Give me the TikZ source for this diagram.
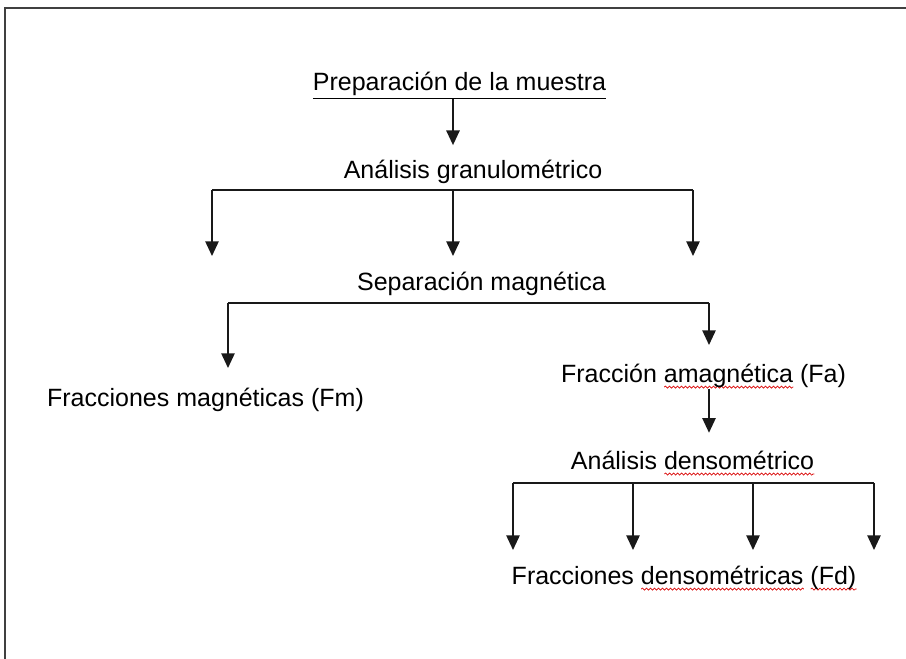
\documentclass[tikz,border=0pt]{standalone}
\usepackage{fontspec}
\setmainfont{Liberation Sans}
\usetikzlibrary{arrows.meta,decorations.pathmorphing}
\newcommand\spellwave[1]{\setbox0\hbox{#1}\rlap{\tikz[baseline=0pt]\draw[red!85!black, line width=0.5pt, decorate, decoration={snake,amplitude=0.8pt,segment length=3pt}] (0pt,-3.8pt) -- (\wd0,-3.8pt);}\box0\relax}
\tikzset{
  txt/.style={anchor=base, inner sep=0pt, font=\fontsize{18.75}{22}\selectfont},
  flow/.style={draw=black!90, line width=1.2pt, -{Triangle[width=10pt,length=11pt]}},
  branch/.style={draw=black!90, line width=1.2pt},
}
\begin{document}
\begin{tikzpicture}[x=0.75pt,y=-0.75pt]
\useasboundingbox (0,0) rectangle (906,659);
% page frame
\draw[line width=1.5pt, black!75] (5,659) -- (5,8) -- (906,8);
% texts
\node[txt] (prep) at (459.5,91) {\underline{Preparación de la muestra}};
\node[txt] (gran) at (473,179) {Análisis granulométrico};
\node[txt] (sep) at (481.5,291) {Separación magnética};
\node[txt] (fm) at (205.5,406) {Fracciones magnéticas (Fm)};
\node[txt] (fa) at (703.5,382) {Fracción \spellwave{amagnética} (Fa)};
\node[txt] (dens) at (692.5,469) {Análisis \spellwave{densométrico}};
\node[txt] (fd) at (684,584) {Fracciones \spellwave{densométricas} \spellwave{(Fd)}};
% granulometric split
\coordinate (g1) at (212,190);
\coordinate (g2) at (453,190);
\coordinate (g3) at (693,190);
\draw[flow] (prep.south -| g2) -- ++(0,46);
\draw[branch] (g1) -- (g3);
\foreach \c in {g1,g2,g3}
  \draw[flow] (\c) -- ++(0,66);
% magnetic split
\coordinate (s1) at (228,303);
\coordinate (s2) at (709,303);
\draw[branch] (s1) -- (s2);
\draw[flow] (s1) -- ++(0,65);
\draw[flow] (s2) -- ++(0,42);
\draw[flow] (fa.south -| s2) -- ++(0,44);
% densometric split
\foreach \x [count=\i] in {513,633,753,874}
  \coordinate (d\i) at (\x,483);
\draw[branch] (d1) -- (d4);
\foreach \i in {1,...,4}
  \draw[flow] (d\i) -- ++(0,67);
\end{tikzpicture}
\end{document}
